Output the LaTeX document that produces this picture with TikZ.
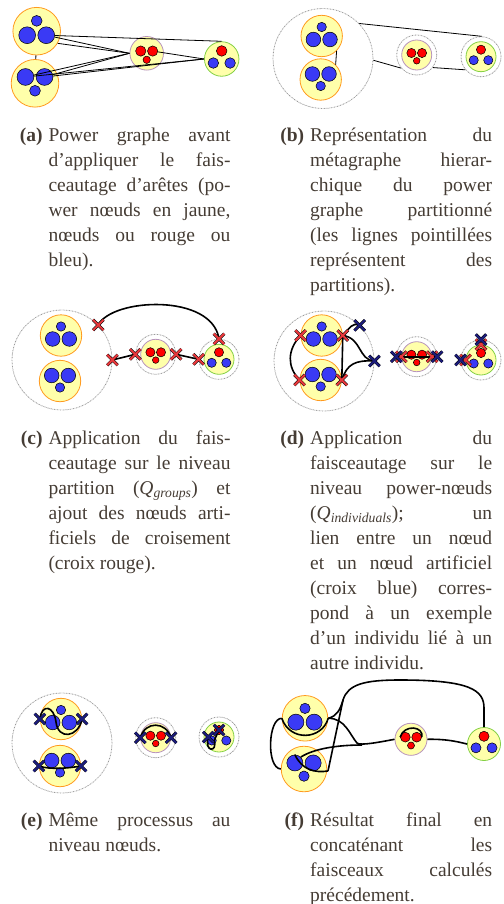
\documentclass[tikz,border=0pt]{standalone}
\usepackage{fontspec}
\setmainfont{Liberation Serif}
\usetikzlibrary{shapes.misc}
\definecolor{poweryellow}{HTML}{FFFFAA}
\definecolor{powerorange}{HTML}{FF9A1F}
\definecolor{partpurple}{HTML}{B894BC}
\definecolor{partgreen}{HTML}{84D044}
\definecolor{nodeblue}{HTML}{3A3AF5}
\definecolor{nodered}{HTML}{FF0000}
\definecolor{crossred}{HTML}{E8383C}
\definecolor{crossnavy}{HTML}{1C1C7C}
\definecolor{partgray}{HTML}{9A9A9A}
\definecolor{captext}{HTML}{453C34}
\pgfdeclarelayer{front}
\pgfsetlayers{main,front}

\begin{document}
\begin{tikzpicture}[x=1pt, y=-1pt,
    pnode/.style={circle, draw=powerorange, fill=poweryellow, line width=0.8pt, minimum size=41.4pt, inner sep=0pt},
    rnode/.style={circle, draw=partpurple, fill=poweryellow, line width=0.8pt, minimum size=30pt, inner sep=0pt},
    gnode/.style={circle, draw=partgreen, fill=poweryellow, line width=0.8pt, minimum size=30pt, inner sep=0pt},
    bbig/.style={circle, draw=black, fill=nodeblue, line width=0.5pt, minimum size=14.6pt, inner sep=0pt},
    bsmall/.style={circle, draw=black, fill=nodeblue, line width=0.5pt, minimum size=9.4pt, inner sep=0pt},
    bmid/.style={circle, draw=black, fill=nodeblue, line width=0.5pt, minimum size=9.2pt, inner sep=0pt},
    rbig/.style={circle, draw=black, fill=nodered, line width=0.5pt, minimum size=9.2pt, inner sep=0pt},
    rsmall/.style={circle, draw=black, fill=nodered, line width=0.5pt, minimum size=6.6pt, inner sep=0pt},
    partbig/.style={circle, draw=partgray, line width=0.8pt, dash pattern=on 1.2pt off 0.8pt on 0.4pt off 0.8pt, minimum size=100pt, inner sep=0pt},
    partsmall/.style={partbig, minimum size=40pt},
    rcross/.style={cross out, draw=black, double=crossred, double distance=2pt, line width=0.5pt, minimum size=10pt, inner sep=0pt},
    bcross/.style={rcross, double=crossnavy},
    thinlink/.style={draw=black, line width=0.8pt},
    link/.style={draw=black, line width=1.6pt},
    caption/.style={anchor=base west, inner sep=0pt, text=captext, font=\fontsize{19.5}{25}\selectfont}]

  \useasboundingbox (0,0) rectangle (503,904);

  %% groups: power node of three blue nodes, partition node of red / mixed nodes
  \newcommand{\powup}[3]{%
    \begin{scope}[shift={(#2)}, scale=#3, transform shape]
      \node[pnode] (#1) at (0,0) {};
      \node[bsmall] (#1-s) at (0,-9) {};
      \node[bbig] (#1-l) at (-8.3,3.5) {};
      \node[bbig] (#1-r) at (8.3,3.5) {};
    \end{scope}}
  \newcommand{\powdown}[3]{%
    \begin{scope}[shift={(#2)}, scale=#3, transform shape]
      \node[pnode] (#1) at (0,0) {};
      \node[bbig] (#1-l) at (-8.3,-5.5) {};
      \node[bbig] (#1-r) at (8.3,-5.5) {};
      \node[bsmall] (#1-s) at (0,6.5) {};
    \end{scope}}
  \newcommand{\redtrio}[3]{%
    \begin{scope}[shift={(#2)}, scale=#3, transform shape]
      \node[rnode] (#1) at (0,0) {};
      \node[rbig] (#1-l) at (-5.3,-2) {};
      \node[rbig] (#1-r) at (5.3,-2) {};
      \node[rsmall] (#1-s) at (0,5.8) {};
    \end{scope}}
  \newcommand{\greentrio}[3]{%
    \begin{scope}[shift={(#2)}, scale=#3, transform shape]
      \node[gnode] (#1) at (0,0) {};
      \node[rbig] (#1-t) at (0,-7) {};
      \node[bmid] (#1-l) at (-7.3,3.5) {};
      \node[bmid] (#1-r) at (7.3,3.5) {};
    \end{scope}}
  \newcommand{\capline}[1]{\makebox[182pt][s]{#1}\\}

  %% ---- (a) power graphe ----
  \powup{aT}{36.7,31.2}{1.15}
  \powdown{aB}{35,83.3}{1.15}
  \redtrio{aM}{146.7,53.3}{1.12}
  \greentrio{aG}{221.7,59}{1.15}
  \draw[thinlink] (aT) -- (aB);
  \draw[thinlink] (aT-r) -- (aG.north);
  \draw[thinlink] (aT-r) -- (aM.west);
  \draw[thinlink] (aT.-30) -- (aM.west);
  \draw[thinlink] (aB-l) -- (aM.west);
  \draw[thinlink] (aB-r) -- (aM.west);
  \draw[thinlink] (aB-l) -- (aG.west);
  \draw[thinlink] (aB-r) -- (aG.west);
  \draw[thinlink] (aM-r) -- (aG.west);

  %% ---- (b) metagraphe ----
  \node[partbig] (bP) at (323,58.5) {};
  \powup{bT}{321.7,36}{1}
  \powdown{bB}{320.7,79.5}{1}
  \node[partsmall] (bMp) at (416.7,55) {};
  \redtrio{bM}{416.7,55}{1}
  \node[partsmall] (bGp) at (481,56.7) {};
  \greentrio{bG}{481,56.7}{1}
  \draw[thinlink] (bT.-45) -- (bB.45);
  \draw[thinlink] (bP.44) -- (bGp.88);
  \draw[thinlink] (bP.-2) -- (bMp.220);
  \draw[thinlink] (bMp.-38) -- (bGp.220);

  %% ---- (c) niveau partition ----
  \node[partbig] (cP) at (62,360) {};
  \powup{cT}{61,335.5}{1}
  \powdown{cB}{60,381}{1}
  \node[partsmall] (cMp) at (155.7,354.3) {};
  \redtrio{cM}{155.7,354.3}{1}
  \node[partsmall] (cGp) at (219,359.3) {};
  \greentrio{cG}{219,359.3}{1}
  \begin{pgfonlayer}{front}
    \node[rcross] (cx1) at (cP.44) {};
    \node[rcross] (cx2) at (cP.0) {};
    \node[rcross] (cx3) at (cMp.180) {};
    \node[rcross] (cx4) at (cMp.0) {};
    \node[rcross] (cx5) at (cGp.180) {};
    \node[rcross] (cx6) at (cGp.90) {};
  \end{pgfonlayer}
  \draw[link] (cx2.center) -- (cx3.center);
  \draw[link] (cx4.center) -- (cx5.center);
  \draw[link] (cx1.center) .. controls (112,298) and (212,293) .. (cx6.center);

  %% ---- (d) niveau power-noeuds ----
  \node[partbig] (dP) at (324,361) {};
  \powup{dT}{321.7,335.5}{1}
  \powdown{dB}{320.7,380}{1}
  \node[partsmall] (dMp) at (416.7,356.7) {};
  \redtrio{dM}{416.7,356.7}{1}
  \node[partsmall] (dGp) at (481,360) {};
  \greentrio{dG}{481,360}{1}
  \begin{pgfonlayer}{front}
    \node[rcross] (dx1) at (dT.180) {};
    \node[rcross] (dx2) at (dT.0) {};
    \node[rcross] (dx3) at (dB.180) {};
    \node[rcross] (dx4) at (dB.0) {};
    \node[bcross] (dy1) at (dP.45) {};
    \node[bcross] (dy2) at (dP.0) {};
    \node[rcross] (dx5) at (dM.180) {};
    \node[rcross] (dx6) at (dM.0) {};
    \node[bcross] (dy3) at (dMp.180) {};
    \node[bcross] (dy4) at (dMp.0) {};
    \node[rcross] (dx7) at (dG.180) {};
    \node[rcross] (dx8) at (dG.90) {};
    \node[bcross] (dy5) at (dGp.180) {};
    \node[bcross] (dy6) at (dGp.90) {};
  \end{pgfonlayer}
  \draw[link] (dx1.center) .. controls (287,350) and (287,367) .. (dx3.center);
  \draw[link] (dx2.center) -- (dx4.center);
  \draw[link] (dx2.center) .. controls (350,328) and (352,322) .. (dy1.center);
  \draw[link] (dx2.center) .. controls (362,338) and (358,360) .. (dy2.center);
  \draw[link] (dx4.center) .. controls (347,364) and (355,360) .. (dy2.center);
  \draw[link] (dy3.center) -- (dx5.center) -- (dx6.center) -- (dy4.center);
  \draw[link] (dy5.center) -- (dx7.center);
  \draw[link] (dy6.center) -- (dx8.center);

  %% ---- (e) niveau noeuds ----
  \node[partbig] (eP) at (62,743) {};
  \powup{eT}{61,719}{1}
  \powdown{eB}{60,766}{1}
  \node[partsmall] (eMp) at (155.7,737.7) {};
  \redtrio{eM}{155.7,737.7}{1}
  \node[partsmall] (eGp) at (219,737) {};
  \greentrio{eG}{219,737}{1}
  \begin{pgfonlayer}{front}
    \node[bcross] (ey1) at (eT.180) {};
    \node[bcross] (ey2) at (eT.0) {};
    \node[bcross] (ey3) at (eB.180) {};
    \node[bcross] (ey4) at (eB.0) {};
    \node[bcross] (ey5) at (eM.180) {};
    \node[bcross] (ey6) at (eM.0) {};
    \node[bcross] (ey7) at (eG-t) {};
    \node[bcross] (ey8) at (eG-l.north west) {};
  \end{pgfonlayer}
  \draw[link] (ey1.center) .. controls (42,703) and (54,706) .. (56,722)
                           .. controls (58,740) and (78,738) .. (ey2.center);
  \draw[link] (ey3.center) .. controls (50,770) and (70,768) .. (ey4.center);
  \draw[link] (ey5.center) .. controls (145,721) and (166,721) .. (ey6.center);
  \draw[link] (ey8.center) .. controls (204,753) and (218,752) .. (214,741) -- (ey7.center);

  %% ---- (f) resultat final ----
  \powup{fT}{305,718.3}{1.1}
  \powdown{fB}{304,769}{1.1}
  \redtrio{fM}{411,739.3}{1.07}
  \greentrio{fG}{484,744}{1.1}
  \coordinate (fj1) at (362,745);
  \coordinate (fj2) at (343,700);
  \coordinate (fj3) at (328,771);
  \draw[link] (fT.east) .. controls (337,716) and (340,710) .. (fj2)
                        .. controls (348,684) and (365,680) .. (400,680)
                        .. controls (470,680) and (484,690) .. (484,708) -- (fG.north);
  \draw[link] (fT.east) .. controls (345,718) and (350,735) .. (357,743)
                        .. controls (360,746) and (380,742) .. (fM.west);
  \draw[link] (fB-l.north east) .. controls (315,748) and (340,745) .. (fj1);
  \draw[link] (fM.east) .. controls (445,739) and (455,741) .. (fG.west);
  \draw[link] (fM-l.west) .. controls (404,724) and (424,726) .. (fM-r.east);
  \draw[link] (fT.west) .. controls (290,742) and (322,740) .. (fT.east);
  \draw[link] (fT.west) .. controls (268,718) and (266,768) .. (fB.west);
  \draw[link] (fB-l.north) .. controls (302,770) and (315,773) .. (fj3);
  \draw[link] (fj2) -- (fj3);

  %% ---- captions ----
  \node[caption] (capa) at (48.3,142) {\parbox[t]{182pt}{%
    \capline{\llap{\textbf{(a)}\hspace{6pt}}Power graphe avant}
    \capline{d’appliquer le fais-}
    \capline{ceautage d’arêtes (po-}
    \capline{wer nœuds en jaune,}
    \capline{nœuds ou rouge ou}
    bleu).}};
  \node[caption] (capb) at (310,142) {\parbox[t]{182pt}{%
    \capline{\llap{\textbf{(b)}\hspace{6pt}}Représentation du}
    \capline{métagraphe hierar-}
    \capline{chique du power}
    \capline{graphe partitionné}
    \capline{(les lignes pointillées}
    \capline{représentent des}
    partitions).}};
  \node[caption] (capc) at (48.3,444) {\parbox[t]{182pt}{%
    \capline{\llap{\textbf{(c)}\hspace{6pt}}Application du fais-}
    \capline{ceautage sur le niveau}
    \capline{partition (\textit{Q}\textsubscript{\textit{groups}}) et}
    \capline{ajout des nœuds arti-}
    \capline{ficiels de croisement}
    (croix rouge).}};
  \node[caption] (capd) at (310,444) {\parbox[t]{182pt}{%
    \capline{\llap{\textbf{(d)}\hspace{6pt}}Application du}
    \capline{faisceautage sur le}
    \capline{niveau power-nœuds}
    \capline{(\textit{Q}\textsubscript{\textit{individuals}}); un}
    \capline{lien entre un nœud}
    \capline{et un nœud artificiel}
    \capline{(croix blue) corres-}
    \capline{pond à un exemple}
    \capline{d’un individu lié à un}
    autre individu.}};
  \node[caption] (cape) at (48.3,826) {\parbox[t]{182pt}{%
    \capline{\llap{\textbf{(e)}\hspace{6pt}}Même processus au}
    niveau nœuds.}};
  \node[caption] (capf) at (310,826) {\parbox[t]{182pt}{%
    \capline{\llap{\textbf{(f)}\hspace{6pt}}Résultat final en}
    \capline{concaténant les}
    \capline{faisceaux calculés}
    précédement.}};
\end{tikzpicture}
\end{document}
